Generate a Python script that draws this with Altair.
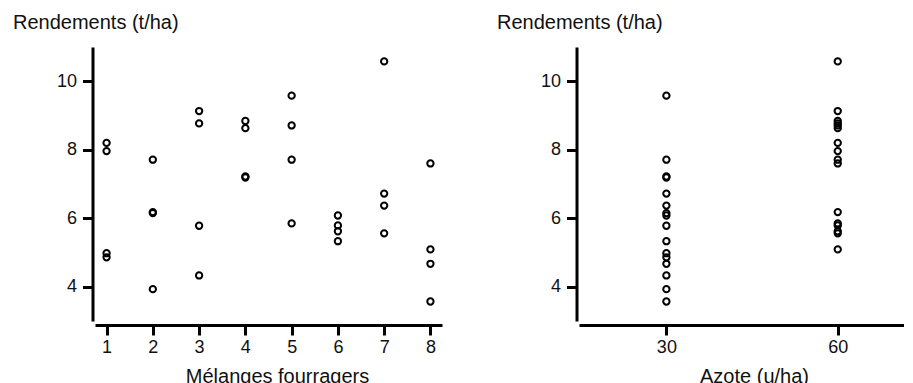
import altair as alt
import pandas as pd

# Data: 8 forage mixtures x 2 nitrogen levels x 2 reps
melange = [1, 1, 1, 1,
           2, 2, 2, 2,
           3, 3, 3, 3,
           4, 4, 4, 4,
           5, 5, 5, 5,
           6, 6, 6, 6,
           7, 7, 7, 7,
           8, 8, 8, 8]
azote = [60, 60, 30, 30,
         60, 60, 30, 30,
         60, 60, 30, 30,
         60, 60, 30, 30,
         30, 60, 30, 60,
         30, 60, 60, 30,
         60, 30, 30, 60,
         60, 60, 30, 30]
rendement = [8.20, 7.96, 4.98, 4.86,
             7.71, 6.18, 6.15, 3.93,
             9.13, 8.77, 5.78, 4.33,
             8.84, 8.63, 7.22, 7.19,
             9.58, 8.71, 7.71, 5.85,
             6.08, 5.79, 5.62, 5.33,
             10.58, 6.72, 6.37, 5.56,
             7.60, 5.09, 4.67, 3.57]

x1_ticks = [1, 2, 3, 4, 5, 6, 7, 8]
x2_ticks = [30, 60]
y_ticks = [4, 6, 8, 10]

df = pd.DataFrame({"melange": melange, "azote": azote, "rendement": rendement})

FONT = "Liberation Sans"

point = dict(shape="circle", filled=False, color="black", size=40,
             strokeWidth=2, opacity=1)

y_enc = alt.Y(
    "rendement:Q",
    scale=alt.Scale(domain=[3, 11], nice=False, zero=False),
    axis=alt.Axis(values=y_ticks, title="Rendements (t/ha)", titleAngle=0,
                  titleAlign="left", titleBaseline="alphabetic",
                  titleX=-80, titleY=-18.5, offset=2.5, labelPadding=6),
)

left = alt.Chart(df).mark_point(**point).encode(
    x=alt.X("melange:Q",
            scale=alt.Scale(domain=[0.75, 8.25], nice=False, zero=False),
            axis=alt.Axis(values=x1_ticks, title="Mélanges fourragers",
                          titleAlign="center", titleBaseline="alphabetic",
                          titleX=182, titleY=57, offset=4, labelPadding=3)),
    y=y_enc,
).properties(width=347, height=274)

right = alt.Chart(df).mark_point(**point).encode(
    x=alt.X("azote:Q",
            scale=alt.Scale(domain=[14.7, 71.6], nice=False, zero=False),
            axis=alt.Axis(values=x2_ticks, title="Azote (u/ha)",
                          titleAlign="center", titleBaseline="alphabetic",
                          titleX=175, titleY=57, offset=4, labelPadding=3)),
    y=y_enc,
).properties(width=325, height=274)

chart = alt.hconcat(left, right, spacing=137, bounds="flush").properties(
    padding={"left": 4, "top": 4, "right": 0, "bottom": 0}
).configure_view(strokeWidth=0).configure_axis(
    grid=False,
    domainColor="black", domainWidth=3,
    tickColor="black", tickWidth=3, tickSize=10,
    labelFont=FONT, labelFontSize=18, labelColor="#111111",
    titleFont=FONT, titleFontSize=20, titleFontWeight="normal",
    titleColor="#111111",
)

chart.save("out.html", embed_options={"renderer": "svg", "actions": False})
